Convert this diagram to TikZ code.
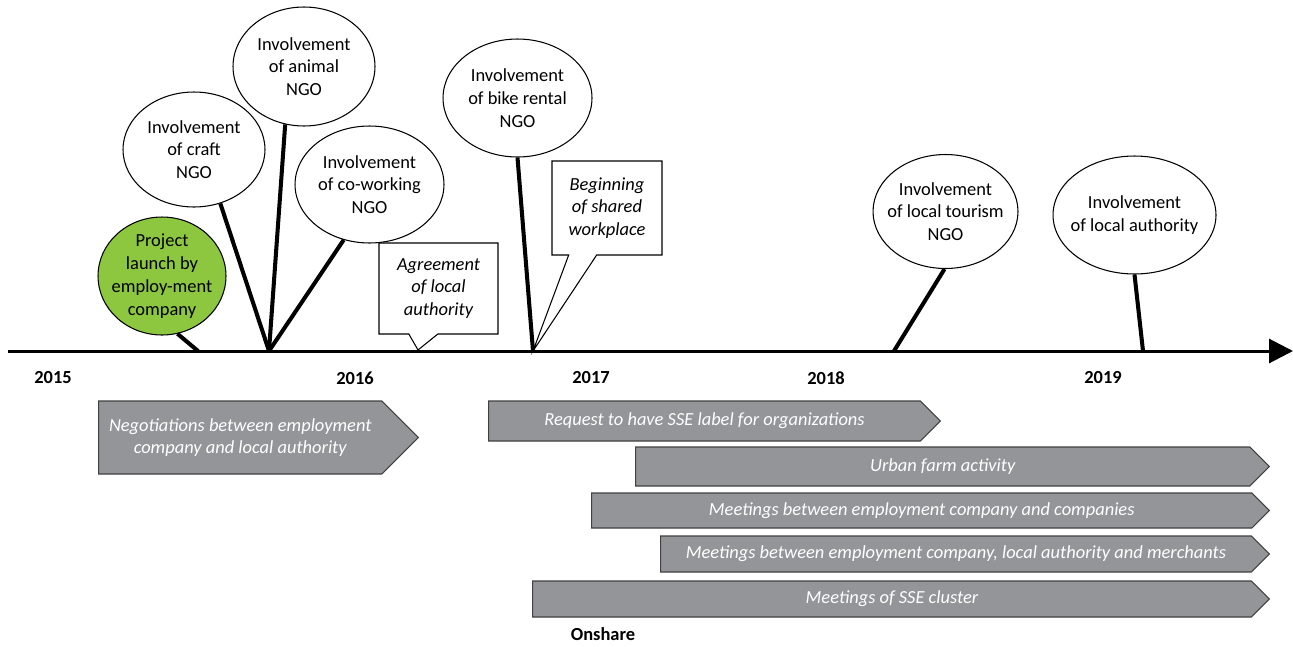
\documentclass[tikz,border=0pt]{standalone}
\usepackage{fontspec}
\setmainfont{Carlito}
\usetikzlibrary{arrows.meta,shapes.geometric,shapes.callouts,shapes.symbols}
\definecolor{barGray}{RGB}{147,149,152}
\definecolor{launchGreen}{RGB}{141,198,63}

\begin{document}
\begin{tikzpicture}[x=0.02cm, y=-0.02cm,
    font=\fontsize{10.5}{13}\selectfont,
    bubble/.style={ellipse, draw, line width=0.6pt, fill=white, inner xsep=-6pt, inner ysep=-2pt, align=center},
    stem/.style={line width=2.3pt},
    note/.style={rectangle callout, draw, line width=0.6pt, fill=white, inner sep=0pt, align=center, font=\fontsize{10.5}{13}\selectfont\itshape},
    phase/.style={signal, signal to=east, signal pointer angle=90, draw=black!75, line width=0.6pt, fill=barGray, text=white, inner sep=0pt, anchor=west, align=center, font=\fontsize{10.5}{13}\selectfont\itshape},
    boldtext/.style={font=\fontsize{10.5}{13}\selectfont\bfseries}]
    \useasboundingbox (0,0) rectangle (1293,646);

    % Time axis
    \coordinate (axStart) at (8,351);
    \coordinate (axEnd) at (1293,351);
    \draw[line width=1.7pt, -{Triangle[length=13.6pt, width=13.6pt]}] (axStart) -- (axEnd);

    % Years
    \node[boldtext] (y2015) at (53,378) {2015};
    \node[boldtext] (y2016) at (355,378) {2016};
    \node[boldtext] (y2017) at (591,378) {2017};
    \node[boldtext] (y2018) at (826,378) {2018};
    \node[boldtext] (y2019) at (1103,378) {2019};

    % Points on the axis
    \coordinate (tLaunch) at (198,351);
    \coordinate (tEarly) at (269,351);
    \coordinate (tAgree) at (418,350);
    \coordinate (tBike) at (533,351);
    \coordinate (tTourism) at (894,351);
    \coordinate (tAuthority) at (1143,351);

    % Events
    \node[bubble, fill=launchGreen, minimum width=2.56cm, minimum height=2.36cm] (launch) at (162,276) {Project\\launch by\\employ-ment\\company};
    \node[bubble, minimum width=2.84cm, minimum height=2.3cm] (craft) at (194,149.5) {Involvement\\of craft\\NGO};
    \node[bubble, minimum width=2.84cm, minimum height=2.38cm] (animal) at (304,66.5) {Involvement\\of animal\\NGO};
    \node[bubble, minimum width=2.98cm, minimum height=2.34cm] (cowork) at (369.5,184.5) {Involvement\\of co-working\\NGO};
    \node[bubble, minimum width=2.98cm, minimum height=2.36cm] (bike) at (517.5,98) {Involvement\\of bike rental\\NGO};
    \node[bubble, minimum width=2.9cm, minimum height=2.28cm] (tourism) at (945.5,211.5) {Involvement\\of local tourism\\NGO};
    \node[bubble, minimum width=3.26cm, minimum height=2.36cm] (authority) at (1134.5,215) {Involvement\\of local authority};

    \draw[stem] (launch.-75) -- (tLaunch);
    \draw[stem] (craft.-64) -- (tEarly);
    \draw[stem] (animal.-108) -- (tEarly);
    \draw[stem] (cowork.-115) -- (tEarly);
    \draw[stem] (bike.-90) -- (tBike);
    \draw[stem] (tourism.-91) -- (tTourism);
    \draw[stem] (authority.-90) -- (tAuthority);

    % Callouts
    \node[note, minimum width=2.38cm, minimum height=1.82cm, callout absolute pointer={(tAgree)}, callout pointer width=0.58cm] (agree) at (438.5,288.5) {Agreement\\of local\\authority};
    \node[note, minimum width=2.2cm, minimum height=1.88cm, callout absolute pointer={(tBike)}, callout pointer width=0.56cm] (workplace) at (607,208) {Beginning\\of shared\\workplace};

    % Phases
    \node[phase, minimum width=6.4cm, minimum height=1.46cm] (nego) at (98,437.5) {Negotiations between employment\\company and local authority};
    \node[phase, minimum width=9.04cm, minimum height=0.8cm] (label) at (488,421) {Request to have SSE label for organizations};
    \node[phase, minimum width=12.68cm, minimum height=0.78cm] (farm) at (635,466.5) {Urban farm activity};
    \node[phase, minimum width=13.56cm, minimum height=0.7cm] (meetCo) at (591,510.5) {Meetings between employment company and companies};
    \node[phase, minimum width=12.18cm, minimum height=0.72cm] (meetMer) at (660,554) {Meetings between employment company, local authority and merchants};
    \node[phase, minimum width=14.74cm, minimum height=0.72cm] (cluster) at (532,599) {Meetings of SSE cluster};

    \node[boldtext] (onshare) at (603,634) {Onshare};
  \end{tikzpicture}
\end{document}
